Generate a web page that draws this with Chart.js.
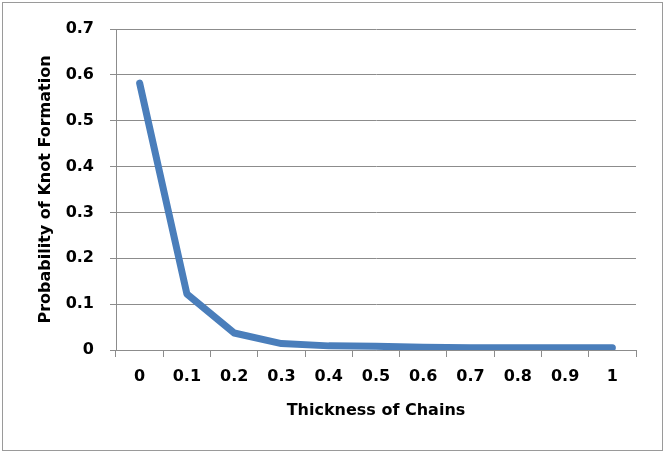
<!DOCTYPE html>
<html>
<head>
<meta charset="utf-8">
<script src="https://cdn.jsdelivr.net/npm/chart.js@4"></script>
<style>
html,body{margin:0;padding:0;background:#fff;}
#wrap{position:absolute;left:0;top:0;width:665px;height:453px;}
#frame{position:absolute;left:2px;top:2px;width:661px;height:449px;border:1.5px solid #9a9a9a;box-sizing:border-box;pointer-events:none;}
canvas{position:absolute;left:0;top:0;}
</style>
</head>
<body>
<div id="wrap"><canvas id="c" width="665" height="453"></canvas><div id="frame"></div></div>
<script>
const categories = ["0","0.1","0.2","0.3","0.4","0.5","0.6","0.7","0.8","0.9","1"];
const knotProbability = [0.582, 0.122, 0.037, 0.014, 0.009, 0.008, 0.006, 0.005, 0.005, 0.005, 0.005];
const yMin = 0, yMax = 0.7, yStep = 0.1;
const xTitle = "Thickness of Chains";
const yTitle = "Probability of Knot Formation";

const fontFam = "'DejaVu Sans', sans-serif";
const grey = "#8c8c8c";

new Chart(document.getElementById('c'), {
  type: 'line',
  data: {
    labels: categories,
    datasets: [{
      data: knotProbability,
      borderColor: '#4a7ebb',
      borderWidth: 7,
      pointRadius: 0,
      tension: 0,
      borderCapStyle: 'round',
      borderJoinStyle: 'round',
      fill: false
    }]
  },
  options: {
    responsive: false,
    animation: false,
    devicePixelRatio: 1,
    layout: { padding: { left: 36, right: 29, top: 29, bottom: 33 } },
    plugins: { legend: { display: false }, tooltip: { enabled: false } },
    scales: {
      x: {
        offset: true,
        grid: { display: true, drawOnChartArea: false, drawTicks: true, tickLength: 7, color: grey, offset: true },
        border: { display: true, color: grey, width: 1 },
        ticks: { color: '#000', font: { family: fontFam, size: 16, weight: 'bold' }, padding: 10, maxRotation: 0 },
        title: { display: true, text: xTitle, color: '#000', font: { family: fontFam, size: 16, weight: 'bold' }, padding: { top: 0, bottom: 0 } },
        afterFit: s => { s.height = 70; }
      },
      y: {
        min: yMin, max: yMax,
        ticks: { stepSize: yStep, color: '#000', font: { family: fontFam, size: 16, weight: 'bold' }, padding: 16,
          callback: v => (Math.round(v*10)/10).toString() },
        grid: { color: grey, lineWidth: 1, drawTicks: true, tickLength: 6 },
        border: { display: true, color: grey, width: 1 },
        title: { display: true, text: yTitle, color: '#000', font: { family: fontFam, size: 16, weight: 'bold' }, padding: { top: 0, bottom: 0 } },
        afterFit: s => { s.width = 80; }
      }
    }
  }
});
</script>
</body>
</html>
